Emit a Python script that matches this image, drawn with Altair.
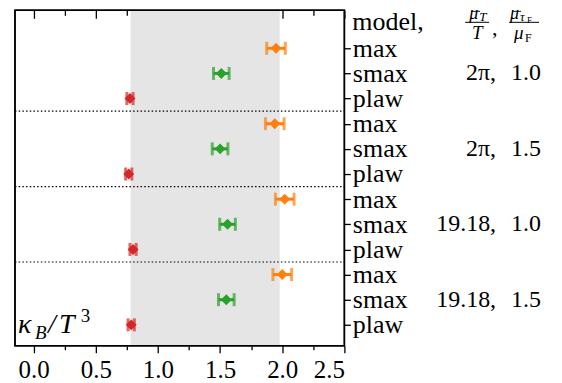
import altair as alt
import pandas as pd

# ---- data ----
groups = ["2π, 1.0", "2π, 1.5", "19.18, 1.0", "19.18, 1.5"]
models = ["max", "smax", "plaw"]
center_max = [1.95, 1.94, 2.02, 2.00]
center_smax = [1.51, 1.50, 1.56, 1.55]
center_plaw = [0.775, 0.765, 0.80, 0.785]
err_max = [0.075, 0.075, 0.075, 0.075]
err_smax = [0.063, 0.063, 0.063, 0.063]
err_plaw = [0.025, 0.025, 0.025, 0.025]
band_lo, band_hi = [0.78], [1.98]
ann_left = ["2π,", "2π,", "19.18,", "19.18,"]
ann_right = ["1.0", "1.5", "1.0", "1.5"]
x_major = [0.0, 0.5, 1.0, 1.5, 2.0, 2.5]
x_minor = [0.25, 0.75, 1.25, 1.75, 2.25]

rows = []
for gi, g in enumerate(groups):
    for mi, (m, c, e) in enumerate(zip(models,
                                       [center_max[gi], center_smax[gi], center_plaw[gi]],
                                       [err_max[gi], err_smax[gi], err_plaw[gi]])):
        rows.append(dict(group=g, model=m, row=gi * 3 + mi, val=c, lo=c - e, hi=c + e))
df = pd.DataFrame(rows)
sep_df = pd.DataFrame({"y": [2.5, 5.5, 8.5]})
band_df = pd.DataFrame({"lo": band_lo, "hi": band_hi})
ann_df = pd.DataFrame({"row": [1, 4, 7, 10], "left": ann_left, "right": ann_right})

W, H = 330, 336
FONT = "Liberation Serif"
xscale = alt.Scale(domain=[-0.15, 2.5], nice=False, zero=False)
yscale = alt.Scale(domain=[-1.51, 11.83], reverse=True, nice=False, zero=False)
cscale = alt.Scale(domain=models, range=["#ff7f0e", "#2ca02c", "#d62728"])

ax_common = dict(title=None, grid=False, domain=False, tickColor="black", tickWidth=1.3,
                 labelOverlap=False)
bottom_major = alt.Axis(orient="bottom", values=x_major, format=".1f", tickSize=7,
                        labelFont=FONT, labelFontSize=25, labelColor="black",
                        labelPadding=5, **ax_common)
bottom_minor = alt.Axis(orient="bottom", values=x_minor, tickSize=4, labels=False, **ax_common)
top_major = alt.Axis(orient="top", values=x_major, tickSize=8, offset=-8, labels=False, **ax_common)
top_minor = alt.Axis(orient="top", values=x_minor, tickSize=5, offset=-5, labels=False, **ax_common)
right_axis = alt.Axis(orient="right", values=list(range(12)), tickSize=6,
                      labelExpr="['max','smax','plaw'][datum.value % 3]",
                      labelFont=FONT, labelFontSize=26, labelColor="black",
                      labelPadding=2, labelBaseline="middle", **ax_common)

band = alt.Chart(band_df).mark_rect(color="#e5e5e5").encode(
    x=alt.X("lo:Q", scale=xscale, axis=bottom_major), x2="hi",
    y=alt.value(0), y2=alt.value(H))

seps = alt.Chart(sep_df).mark_rule(color="black", strokeDash=[1.5, 2.2], strokeWidth=1.2).encode(
    y=alt.Y("y:Q", scale=yscale, axis=right_axis), x=alt.value(0), x2=alt.value(W))

err = alt.Chart(df).mark_rule(strokeWidth=3).encode(
    x=alt.X("lo:Q", scale=xscale, axis=bottom_minor), x2="hi",
    y=alt.Y("row:Q", scale=yscale, axis=None),
    color=alt.Color("model:N", scale=cscale, legend=None))

cap_lo = alt.Chart(df).mark_tick(orient="vertical", size=13, thickness=3).encode(
    x=alt.X("lo:Q", scale=xscale, axis=top_major),
    y=alt.Y("row:Q", scale=yscale, axis=None),
    color=alt.Color("model:N", scale=cscale, legend=None))

cap_hi = alt.Chart(df).mark_tick(orient="vertical", size=13, thickness=3).encode(
    x=alt.X("hi:Q", scale=xscale, axis=top_minor),
    y=alt.Y("row:Q", scale=yscale, axis=None),
    color=alt.Color("model:N", scale=cscale, legend=None))

pts = alt.Chart(df).mark_point(shape="diamond", filled=True, size=120, opacity=1).encode(
    x=alt.X("val:Q", scale=xscale, axis=None),
    y=alt.Y("row:Q", scale=yscale, axis=None),
    color=alt.Color("model:N", scale=cscale, legend=None))

frame = alt.Chart(pd.DataFrame({"a": [0]})).mark_rect(
    filled=False, stroke="black", strokeWidth=1.5, fill=None).encode(
    x=alt.value(0), x2=alt.value(W), y=alt.value(0), y2=alt.value(H))

ann_l = alt.Chart(ann_df).mark_text(font=FONT, fontSize=24, align="right", baseline="middle",
                                    color="black").encode(
    x=alt.value(482), y=alt.Y("row:Q", scale=yscale, axis=None), text="left:N")
ann_r = alt.Chart(ann_df).mark_text(font=FONT, fontSize=24, align="right", baseline="middle",
                                    color="black").encode(
    x=alt.value(527), y=alt.Y("row:Q", scale=yscale, axis=None), text="right:N")


def txt(s, x, y, size=24, style="normal", align="left", baseline="alphabetic"):
    return alt.Chart(pd.DataFrame({"t": [s]})).mark_text(
        font=FONT, fontSize=size, fontStyle=style, align=align, baseline=baseline,
        color="black").encode(x=alt.value(x), y=alt.value(y), text="t:N")


def hline(x1, x2, y, w=1.0):
    return alt.Chart(pd.DataFrame({"a": [0]})).mark_rule(color="black", strokeWidth=w).encode(
        x=alt.value(x1), x2=alt.value(x2), y=alt.value(y))


header = [
    txt("model,", 338, 12, 26, baseline="middle"),
    # first fraction  mu_T / T
    txt("μ", 455, 9, 18, "italic"),
    hline(457, 466, 1, 0.9),
    txt("T", 465, 11, 13, "italic"),
    hline(451, 475, 12),
    txt("T", 463, 29, 19, "italic", align="center"),
    txt(",", 478, 25, 22),
    # second fraction mu_tauF / mu_F
    txt("μ", 496, 9, 18, "italic"),
    hline(498, 507, 1, 0.9),
    txt("τ", 506, 11, 13, "italic"),
    txt("F", 513, 13, 9),
    hline(495, 525, 12),
    txt("μ", 500, 29, 19, "italic"),
    txt("F", 511, 32, 12),
    # kappa_B / T^3
    txt("κ", 3, 323, 28, "italic"),
    txt("B", 20, 329, 19, "italic"),
    txt("/", 33, 323, 28, "italic"),
    txt("T", 44, 323, 28, "italic"),
    txt("3", 66, 312, 19),
]

chart = alt.layer(band, seps, err, cap_lo, cap_hi, pts, frame, ann_l, ann_r, *header).resolve_axis(
    x="independent", y="independent"
).properties(
    width=W, height=H,
    autosize=alt.AutoSizeParams(type="none"),
    padding={"left": 7, "top": 2, "right": 210, "bottom": 36},
).configure_view(stroke="black", strokeWidth=1.5)

chart.save("out.html", embed_options={"renderer": "svg", "actions": False})
